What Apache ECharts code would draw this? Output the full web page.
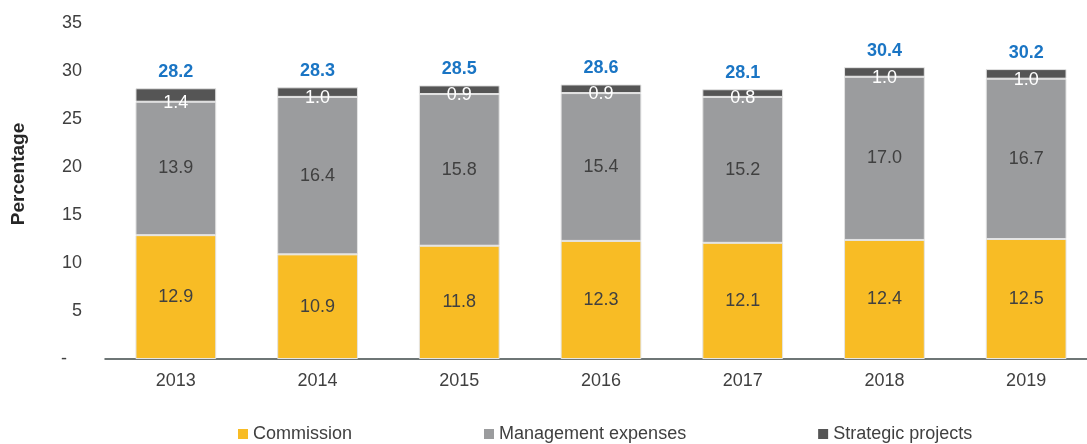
<!DOCTYPE html>
<html>
<head>
<meta charset="utf-8">
<script src="https://cdn.jsdelivr.net/npm/echarts@6/dist/echarts.min.js"></script>
<style>
  html, body { margin: 0; padding: 0; background: #fff; }
  #chart { width: 1087px; height: 444px; }
</style>
</head>
<body>
<div id="chart"></div>
<script>
// data
const years = ["2013", "2014", "2015", "2016", "2017", "2018", "2019"];
const commission = [12.9, 10.9, 11.8, 12.3, 12.1, 12.4, 12.5];
const management = [13.9, 16.4, 15.8, 15.4, 15.2, 17.0, 16.7];
const strategic = [1.4, 1.0, 0.9, 0.9, 0.8, 1.0, 1.0];
const totals = [28.2, 28.3, 28.5, 28.6, 28.1, 30.4, 30.2];

const FONT = "Liberation Sans, Arial, sans-serif";
const TEXT = "#404040";

const chart = echarts.init(document.getElementById("chart"));

const barStyle = (color) => ({ color, borderColor: "#e4e4e4", borderWidth: 1 });

chart.setOption({
	animation: false,
	textStyle: { fontFamily: FONT },
	// plot runs past the right edge in the reference, so no bounds clamping
	grid: { left: 105, top: 23, width: 992, height: 336, outerBoundsMode: "none", containLabel: false },
	legend: {
		data: ["Commission", "Management expenses", "Strategic projects"],
		left: 233, top: 420,
		itemWidth: 10, itemHeight: 10, itemGap: 132,
		icon: "rect",
		itemStyle: { borderWidth: 0 },
		textStyle: { fontSize: 18, color: TEXT, fontFamily: FONT }
	},
	xAxis: {
		type: "category",
		data: years,
		axisLine: { lineStyle: { color: "#3f4a4a", width: 1.5 } },
		axisTick: { show: false },
		axisLabel: { fontSize: 18, color: TEXT, margin: 13 }
	},
	yAxis: {
		type: "value",
		min: 0, max: 35, interval: 5,
		name: "Percentage",
		nameLocation: "middle",
		nameGap: 77,
		// title sits a bit above the plot's middle in the reference
		nameTextStyle: { fontSize: 19, fontWeight: "bold", color: "#262626", padding: [0, 0, 0, 34] },
		splitLine: { show: false },
		axisLine: { show: false },
		axisTick: { show: false },
		axisLabel: {
			fontSize: 18, color: TEXT, margin: 23,
			formatter: v => v === 0 ? "-   " : String(v)
		}
	},
	series: [
		{
			name: "Commission", type: "bar", stack: "t", barWidth: "57%",
			data: commission,
			itemStyle: barStyle("#F8BC25"),
			label: { show: true, position: "inside", fontSize: 18, color: TEXT, formatter: p => p.value.toFixed(1) }
		},
		{
			name: "Management expenses", type: "bar", stack: "t",
			data: management,
			itemStyle: barStyle("#9B9C9E"),
			label: { show: true, position: "inside", fontSize: 18, color: TEXT, formatter: p => p.value.toFixed(1) }
		},
		{
			name: "Strategic projects", type: "bar", stack: "t",
			data: strategic,
			itemStyle: barStyle("#555555"),
			label: { show: true, position: "bottom", distance: -8, fontSize: 18, color: "#ffffff", formatter: p => p.value.toFixed(1) }
		},
		{
			// zero-height series that carries the total label on top of the stack
			name: "Total", type: "bar", stack: "t",
			data: totals.map(() => 0),
			itemStyle: { color: "transparent", borderWidth: 0 },
			label: {
				show: true, position: "top", distance: 7,
				fontSize: 18, fontWeight: "bold", color: "#1A75C4",
				formatter: p => totals[p.dataIndex].toFixed(1)
			}
		}
	]
});
</script>
</body>
</html>
